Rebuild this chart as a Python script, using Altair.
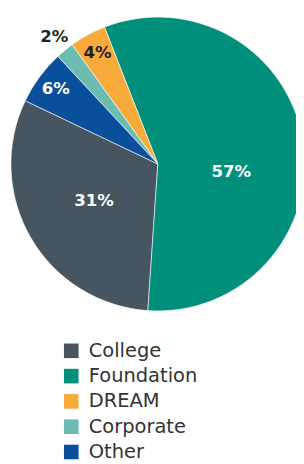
import math
import altair as alt
import pandas as pd

categories = ["College", "Foundation", "DREAM", "Corporate", "Other"]
values = [31, 57, 4, 2, 6]
labels = ["31%", "57%", "4%", "2%", "6%"]
pie_order = [1, 0, 4, 3, 2]
colors = ["#46555f", "#008f7b", "#f8aa3a", "#6dbcb1", "#0a4f9b"]

df = pd.DataFrame({"category": categories, "value": values,
                   "label": labels, "order": pie_order})
total = sum(values)

start = math.radians(-21.3)
theta_scale = alt.Scale(domain=[0, total], range=[start, start + 2 * math.pi])

arcs = alt.Chart(df).mark_arc(outerRadius=151, stroke="white", strokeWidth=0.6).encode(
    theta=alt.Theta("value:Q", stack=True, scale=theta_scale),
    order=alt.Order("order:Q"),
    x=alt.value(154), y=alt.value(154),
    color=alt.Color("category:N",
                    scale=alt.Scale(domain=categories, range=colors),
                    sort=categories,
                    legend=alt.Legend(title=None, orient="none", legendX=55, legendY=336,
                                      symbolType="square", symbolSize=225,
                                      symbolStrokeWidth=0,
                                      labelFont="DejaVu Sans", labelFontSize=20,
                                      labelColor="#333333", labelOffset=8,
                                      rowPadding=6, labelLimit=300)),
)

text = alt.Chart(df).transform_window(
    cum="sum(value)", sort=[alt.SortField("order")], frame=[None, 0]
).transform_calculate(
    mid="datum.cum - datum.value * (datum.value > 50 ? 0.425 : 0.5)",
    lr="datum.value >= 30 ? 76 : (datum.value >= 4 ? 130 : 168)"
).mark_text(font="DejaVu Sans", fontSize=17, fontWeight="bold").encode(
    theta=alt.Theta("mid:Q", stack=False, scale=theta_scale),
    x=alt.value(154), y=alt.value(154),
    radius=alt.Radius("lr:Q", scale=None),
    text="label:N",
    color=alt.condition("datum.value < 5", alt.value("#231f20"), alt.value("white")),
)

chart = alt.layer(arcs, text).properties(
    width=296, height=456, padding=0, autosize=alt.AutoSizeParams(type="none")
).configure_view(stroke=None)

chart.save("out.html", embed_options={"renderer": "svg", "actions": False})
